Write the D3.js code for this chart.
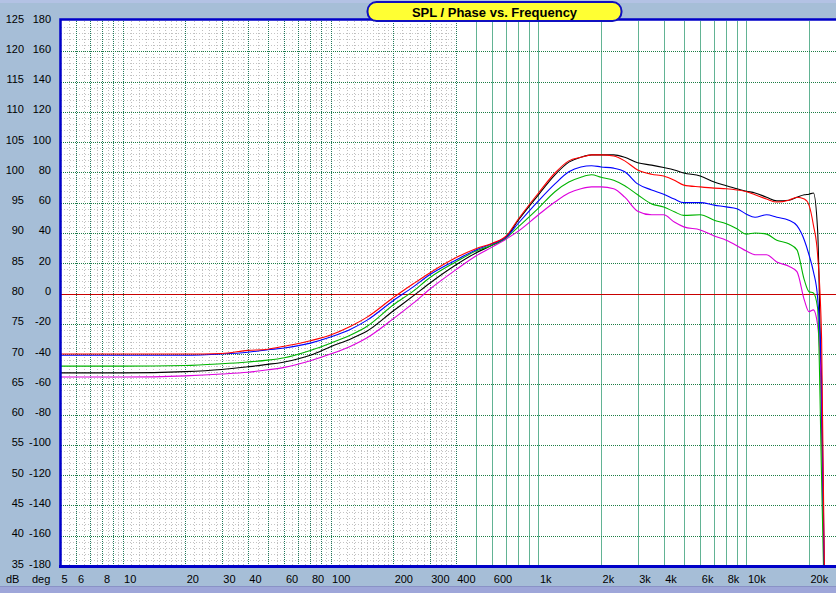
<!DOCTYPE html>
<html>
<head>
<meta charset="utf-8">
<script src="https://cdn.jsdelivr.net/npm/d3@7"></script>
<style>
body { margin: 0; background: #a6bed7; overflow: hidden; }
svg { display: block; }
</style>
</head>
<body>
<svg id="chart" width="836" height="593"></svg>
<script>
// frequency points (Hz) shared by all five curves
var freqs = [5,10,20,30,40,50,60,80,100,125,150,200,250,300,400,500,600,700,800,1000,1200,1400,1600,1800,2000,2300,2600,3000,3500,4000,4500,5000,6000,7000,8000,9000,10000,11000,12500,14000,16000,17500,19000,20000,21000,22000,23000,24000];

// SPL in dB
var splBlack   = [66.9,66.9,67.1,67.45,67.9,68.3,68.7,69.8,71.2,72.5,73.8,77.1,79.6,81.7,84.7,86.7,88.0,89.3,92.1,96.3,99.6,101.7,102.5,102.9,102.9,102.9,102.5,101.6,101.2,100.8,100.4,99.9,99.4,98.4,97.8,97.3,96.9,96.6,95.9,95.3,95.4,95.9,96.3,96.4,96.6,90.5,59.1,20];
var splMagenta = [66.2,66.2,66.4,66.7,67.0,67.4,67.8,68.9,70.0,71.3,72.7,75.8,78.4,80.7,83.9,86.2,87.7,89.0,90.3,93.0,95.1,96.6,97.3,97.6,97.6,97.3,95.9,93.6,93.0,93.0,91.8,91.0,90.5,89.5,88.8,87.9,87.0,86.4,86.4,85.2,84.5,83.6,78.9,77.0,77.3,74.8,62.4,20];
var splGreen   = [68.0,68.0,68.1,68.4,68.7,69.0,69.4,70.6,71.8,73.15,74.6,78.1,80.4,82.6,85.2,87.0,88.0,89.2,91.0,94.1,96.8,98.4,99.2,99.6,99.2,98.7,97.8,96.3,94.8,94.3,93.5,92.9,93.0,92.1,91.5,90.7,89.8,90.0,89.8,88.8,88.2,87.2,82.2,80.3,80.1,77.6,49.2,20];
var splBlue    = [69.8,69.8,69.8,70.0,70.3,70.7,71.0,71.8,72.8,74.1,75.6,78.8,81.1,83.1,85.5,87.2,88.2,89.3,91.6,95.3,98.1,100.1,100.9,101.1,100.9,100.7,100.1,98.1,97.1,96.4,95.6,95.0,95.0,94.6,94.3,94.0,93.1,92.6,93.0,92.6,92.1,91.2,88.8,86.4,83.6,79.3,65.7,20];
var splRed     = [70.0,70.0,70.0,70.1,70.6,70.8,71.3,72.2,73.15,74.6,76.1,79.3,81.6,83.4,85.9,87.4,88.3,89.5,92.3,96.6,99.9,101.9,102.5,102.9,102.9,102.7,101.9,100.4,99.7,99.4,98.7,97.9,97.6,97.4,97.3,97.1,96.8,96.3,95.6,95.1,95.4,95.9,95.6,94.6,91.3,86.4,72.3,20];

// tick labels
var dbTicks = [125,120,115,110,105,100,95,90,85,80,75,70,65,60,55,50,45,40,35];
var degTicks = [180,160,140,120,100,80,60,40,20,0,-20,-40,-60,-80,-100,-120,-140,-160,-180];
var freqTicks = [5,6,8,10,20,30,40,60,80,100,200,300,400,600,1000,2000,3000,4000,6000,8000,10000,20000];
var freqLabels = ["5","6","8","10","20","30","40","60","80","100","200","300","400","600","1k","2k","3k","4k","6k","8k","10k","20k"];
var title = "SPL / Phase vs. Frequency";

var font = "'Liberation Sans', Arial, sans-serif";
var W = 836, H = 593;
var L = 61, R = 836, T = 21, B = 566;

var svg = d3.select("#chart");

var x = d3.scaleLog().domain([5, 20000]).range([60, 809]);
var y = d3.scaleLinear().domain([35, 125]).range([B, T]);
var yDeg = d3.scaleLinear().domain([-180, 180]).range([B, T]);

function px(v) { return Math.round(v) + 0.5; }

// window bands
svg.append("rect").attr("x",0).attr("y",0).attr("width",W).attr("height",3).attr("fill","#b3c2e4");
svg.append("rect").attr("x",0).attr("y",586).attr("width",W).attr("height",7).attr("fill","#9ea6d9");
svg.append("line").attr("x1",0).attr("x2",W).attr("y1",586.5).attr("y2",586.5).attr("stroke","#8a92c6");

// plot background
svg.append("rect").attr("x",L).attr("y",T-1).attr("width",R-L).attr("height",B-T+1).attr("fill","#fff");

var grid = svg.append("g").attr("shape-rendering","crispEdges");

// minor grey grid in the low frequency part
var minorF = [];
[1,10,100].forEach(function(dec){
  for (var k = 1.1; k < 9.99; k += (k < 2 ? 0.1 : (k < 4 ? 0.2 : 0.5))) {
    var kk = Math.round(k*10)/10;
    if (Math.abs(kk - Math.round(kk)) < 0.01) continue;
    var f = kk*dec;
    if (f > 5 && f < 400) minorF.push(f);
  }
});
var minorEnd = 455;
grid.selectAll(".mv").data(minorF).enter().append("line")
  .attr("x1",function(d){return px(x(d));}).attr("x2",function(d){return px(x(d));})
  .attr("y1",T).attr("y2",B)
  .attr("stroke","#bdbdbd").attr("stroke-dasharray","1,2");
grid.selectAll(".mh").data(d3.range(36,125).filter(function(d){return d%5 != 0;})).enter().append("line")
  .attr("x1",L).attr("x2",minorEnd)
  .attr("y1",function(d){return px(y(d));}).attr("y2",function(d){return px(y(d));})
  .attr("stroke","#c4c4c4").attr("stroke-dasharray","1,2");

// major vertical lines 1..9 per decade
var majorF = [];
[1,10,100,1000,10000].forEach(function(dec){
  for (var k = 1; k <= 9; k++) {
    var f = k*dec;
    if (f > 5 && f <= 30000) majorF.push(f);
  }
});
grid.selectAll(".vv").data(majorF).enter().append("line")
  .attr("x1",function(d){return px(x(d));}).attr("x2",function(d){return px(x(d));})
  .attr("y1",T).attr("y2",B)
  .attr("stroke",function(d){return d <= 400 ? "#1f7a5a" : "#62b394";})
  .attr("stroke-dasharray",function(d){return d <= 400 ? "1,1" : null;});

// major horizontal lines every 5 dB
grid.selectAll(".hh").data(d3.range(40,125,5)).enter().append("line")
  .attr("x1",L).attr("x2",R)
  .attr("y1",function(d){return px(y(d));}).attr("y2",function(d){return px(y(d));})
  .attr("stroke","#1d7d45").attr("stroke-dasharray","1,1");

// 0 deg reference
grid.append("line").attr("x1",L).attr("x2",R)
  .attr("y1",px(yDeg(0))).attr("y2",px(yDeg(0)))
  .attr("stroke","#c80000");

// curves
svg.append("clipPath").attr("id","clip").append("rect")
  .attr("x",L).attr("y",T).attr("width",R-L).attr("height",B-T);

var series = [
  {values: splBlack, color: "#000000"},
  {values: splMagenta, color: "#dd00dd"},
  {values: splGreen, color: "#00b400"},
  {values: splBlue, color: "#0000ff"},
  {values: splRed, color: "#ff0000"}
];

var line = d3.line()
  .x(function(d){return x(d[0]);})
  .y(function(d){return y(d[1]);})
  .curve(d3.curveMonotoneX);

svg.append("g").attr("clip-path","url(#clip)")
  .selectAll("path").data(series).enter().append("path")
  .attr("d",function(s){return line(freqs.map(function(f,i){return [f, s.values[i]];}));})
  .attr("fill","none")
  .attr("stroke",function(s){return s.color;})
  .attr("stroke-width",1.1);

// plot frame
svg.append("path").attr("d","M"+(L-0.5)+","+B+"V"+(T-1.5)+"H"+R)
  .attr("fill","none").attr("stroke","#0000c8").attr("stroke-width",2.5);
svg.append("line").attr("x1",59).attr("x2",R).attr("y1",B+0.5).attr("y2",B+0.5)
  .attr("stroke","#0000c8").attr("stroke-width",3);

// axes
function styleAxis(g) {
  g.select(".domain").remove();
  g.attr("font-size",11).attr("font-family",font);
  g.selectAll("text").attr("fill","#000");
}
svg.append("g").attr("transform","translate(24,-2.5)")
  .call(d3.axisLeft(y).tickValues(dbTicks).tickFormat(String).tickSize(0).tickPadding(0))
  .call(styleAxis);
svg.append("g").attr("transform","translate(51,-2.5)")
  .call(d3.axisLeft(yDeg).tickValues(degTicks).tickFormat(String).tickSize(0).tickPadding(0))
  .call(styleAxis);
svg.append("g").attr("transform","translate(0,583)")
  .call(d3.axisBottom(x).tickValues(freqTicks).tickFormat(function(d,i){return freqLabels[i];}).tickSize(0))
  .call(styleAxis)
  .call(function(g){
    g.selectAll("text").attr("text-anchor","start").attr("x",1).attr("y",0).attr("dy",null);
  });

svg.append("text").attr("x",6).attr("y",583).attr("font-family",font).attr("font-size",11).text("dB");
svg.append("text").attr("x",32).attr("y",583).attr("font-family",font).attr("font-size",11).text("deg");

// title
svg.append("rect").attr("x",367.5).attr("y",2).attr("width",254).attr("height",19).attr("rx",9)
  .attr("fill","#ffff33").attr("stroke","#1010c0").attr("stroke-width",2);
svg.append("text").attr("x",494.5).attr("y",16.5).attr("text-anchor","middle")
  .attr("font-family",font).attr("font-size",13).attr("font-weight","bold").text(title);
</script>
</body>
</html>
